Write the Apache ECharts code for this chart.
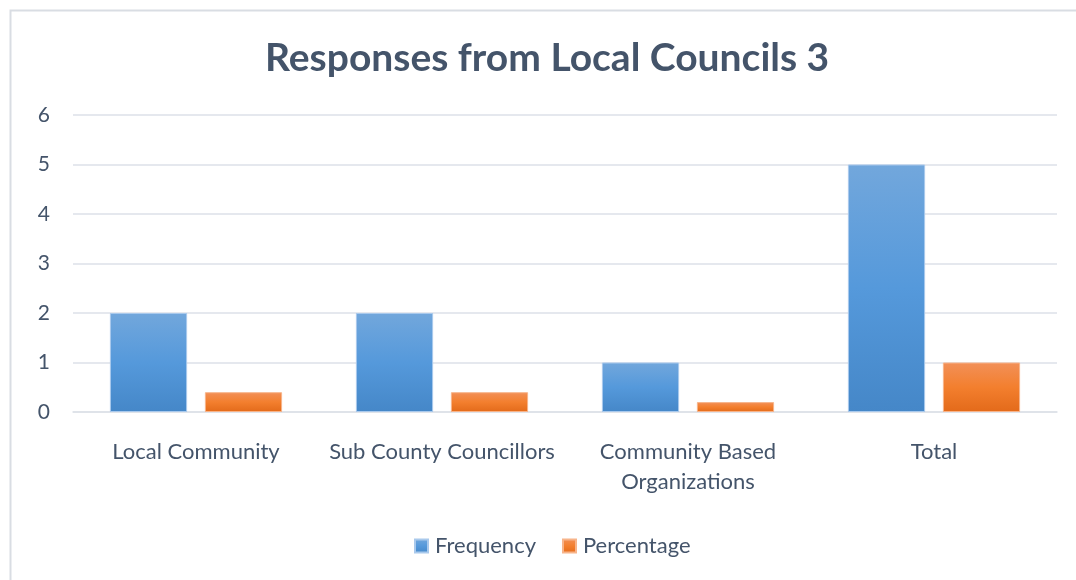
<!DOCTYPE html>
<html>
<head>
<meta charset="utf-8">
<script src="https://cdn.jsdelivr.net/npm/echarts@6/dist/echarts.min.js"></script>
<style>
  html, body { margin: 0; padding: 0; background: #fff; }
  #chart { width: 1076px; height: 580px; }
</style>
</head>
<body>
<div id="chart"></div>
<script>
// Responses from local councils: counts and share per respondent group
const categories = ['Local Community', 'Sub County Councillors', 'Community Based\nOrganizations', 'Total'];
const frequency = [2, 2, 1, 5];
const percentage = [0.4, 0.4, 0.2, 1];
const yTicks = { min: 0, max: 6, interval: 1 };

const FONT = 'Lato, "Open Sans", sans-serif';
const TEXT = '#44546a';
const GRID = '#dde1e8';

function grad(top, mid, bottom) {
  return new echarts.graphic.LinearGradient(0, 0, 0, 1, [
    { offset: 0, color: top },
    { offset: 0.5, color: mid },
    { offset: 1, color: bottom }
  ]);
}

const chart = echarts.init(document.getElementById('chart'), null, { renderer: 'canvas' });
chart.setOption({
  backgroundColor: '#ffffff',
  animation: false,
  graphic: [{
    type: 'rect',
    left: 8, top: 8,
    shape: { width: 1120, height: 620 },
    style: { fill: 'none', stroke: '#d9dde3', lineWidth: 2 },
    silent: true
  }],
  title: {
    text: 'Responses from Local Councils 3',
    left: 260,
    top: 34,
    textStyle: { fontFamily: FONT, fontSize: 39, fontWeight: 'bold', color: TEXT }
  },
  legend: {
    bottom: 18,
    left: 409,
    itemWidth: 13,
    itemHeight: 13,
    itemGap: 26,
    icon: 'rect',
    textStyle: { fontFamily: FONT, fontSize: 22, color: TEXT, padding: [0, 0, 0, 2] },
    data: ['Frequency', 'Percentage']
  },
  grid: { left: 73, right: 19, top: 115, bottom: 168 },
  xAxis: {
    type: 'category',
    data: categories,
    axisLine: { lineStyle: { color: GRID, width: 1.5 } },
    axisTick: { show: false },
    axisLabel: {
      fontFamily: FONT, fontSize: 22, color: TEXT,
      margin: 25, lineHeight: 30, interval: 0
    }
  },
  yAxis: {
    type: 'value',
    min: yTicks.min, max: yTicks.max, interval: yTicks.interval,
    axisLine: { show: false },
    axisTick: { show: false },
    splitLine: { lineStyle: { color: GRID, width: 1.5 } },
    axisLabel: { fontFamily: FONT, fontSize: 21, color: TEXT, margin: 23 }
  },
  series: [
    {
      name: 'Frequency',
      type: 'bar',
      data: frequency,
      barGap: '23%',
      barCategoryGap: '30%',
      itemStyle: {
        color: grad('#72a7dc', '#5599db', '#4587c8'),
        borderColor: '#a9c9ec', borderWidth: 1
      }
    },
    {
      name: 'Percentage',
      type: 'bar',
      data: percentage,
      itemStyle: {
        color: grad('#f29058', '#f37f2e', '#e36a1a'),
        borderColor: '#f7b48a', borderWidth: 1
      }
    }
  ]
});
</script>
</body>
</html>
